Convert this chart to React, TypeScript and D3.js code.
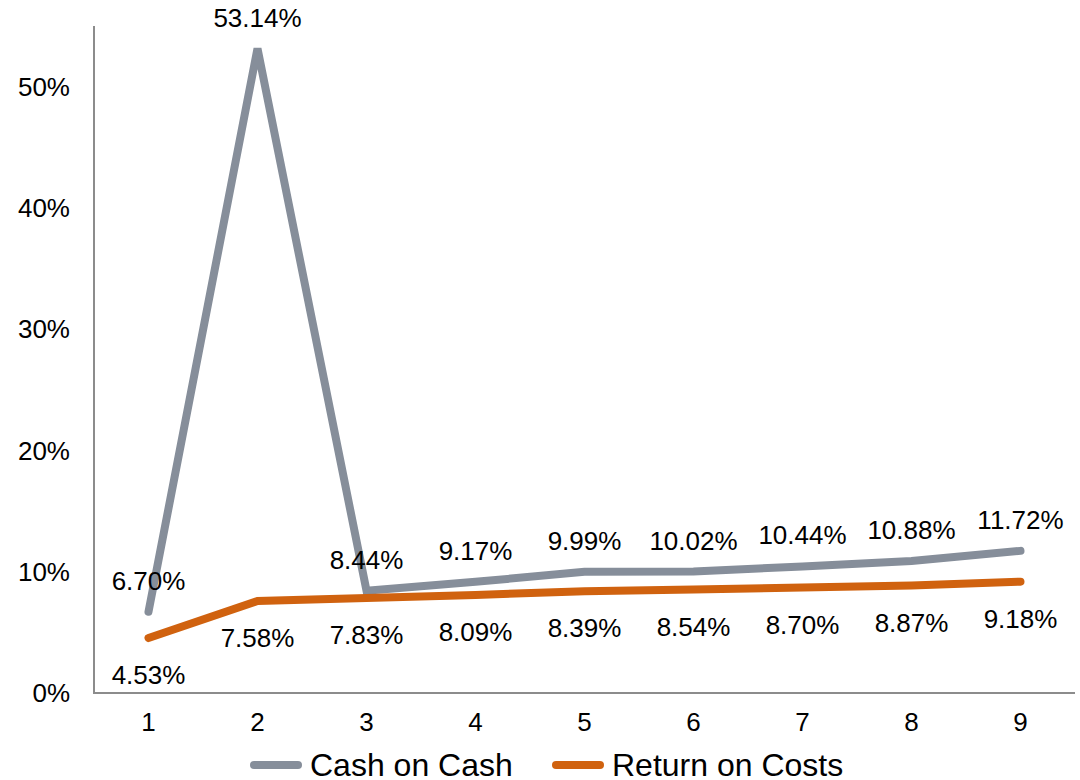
import React, { useRef, useEffect } from 'react';
import * as d3 from 'd3';

const years = ['1', '2', '3', '4', '5', '6', '7', '8', '9'];
const cashOnCash = [6.70, 53.14, 8.44, 9.17, 9.99, 10.02, 10.44, 10.88, 11.72];
const returnOnCosts = [4.53, 7.58, 7.83, 8.09, 8.39, 8.54, 8.70, 8.87, 9.18];
const yTicks = [0, 10, 20, 30, 40, 50];
const seriesNames = ['Cash on Cash', 'Return on Costs'];
const seriesColors = ['#868e9a', '#d0620f'];

const App = () => {
  const svgRef = useRef(null);

  useEffect(() => {
    const svg = d3.select(svgRef.current);
    svg.selectAll('*').remove();

    const font = 'Liberation Sans, Arial, sans-serif';
    const x = d3.scaleBand().domain(years).range([94, 1075]);
    const y = d3.scaleLinear().domain([0, 55]).range([693, 26]);
    const cx = (d: string) => (x(d) as number) + x.bandwidth() / 2;

    // axes lines
    svg.append('line').attr('x1', 94).attr('x2', 94).attr('y1', 26).attr('y2', 694)
      .attr('stroke', '#8c8c8c').attr('stroke-width', 2);
    svg.append('line').attr('x1', 93).attr('x2', 1075).attr('y1', 693).attr('y2', 693)
      .attr('stroke', '#8c8c8c').attr('stroke-width', 2);

    // y tick labels
    svg.append('g').selectAll('text').data(yTicks).enter().append('text')
      .attr('x', 70).attr('y', d => y(d)).attr('dy', '0.35em')
      .attr('text-anchor', 'end').attr('font-family', font).attr('font-size', 26)
      .attr('fill', '#000').text(d => `${d}%`);

    // x tick labels
    svg.append('g').selectAll('text').data(years).enter().append('text')
      .attr('x', d => cx(d)).attr('y', 722).attr('dy', '0.35em')
      .attr('text-anchor', 'middle').attr('font-family', font).attr('font-size', 26)
      .attr('fill', '#000').text(d => d);

    const line = d3.line<number>()
      .x((d, i) => cx(years[i]))
      .y(d => y(d));

    const allSeries = [cashOnCash, returnOnCosts];
    allSeries.forEach((vals, s) => {
      svg.append('path').datum(vals).attr('d', line)
        .attr('fill', 'none').attr('stroke', seriesColors[s]).attr('stroke-width', 8)
        .attr('stroke-linecap', 'round').attr('stroke-linejoin', 'miter');
    });

    // data labels: cash above, return below
    svg.append('g').selectAll('text').data(cashOnCash).enter().append('text')
      .attr('x', (d, i) => cx(years[i])).attr('y', d => y(d) - 31).attr('dy', '0.35em')
      .attr('text-anchor', 'middle').attr('font-family', font).attr('font-size', 26)
      .attr('fill', '#000').text(d => `${d.toFixed(2)}%`);

    svg.append('g').selectAll('text').data(returnOnCosts).enter().append('text')
      .attr('x', (d, i) => cx(years[i])).attr('y', d => y(d) + 37).attr('dy', '0.35em')
      .attr('text-anchor', 'middle').attr('font-family', font).attr('font-size', 26)
      .attr('fill', '#000').text(d => `${d.toFixed(2)}%`);

    // legend
    const legendX = [254, 556];
    const legendTextX = [310, 612];
    seriesNames.forEach((name, i) => {
      const g = svg.append('g').attr('transform', `translate(0,765)`);
      g.append('line').attr('x1', legendX[i]).attr('x2', legendX[i] + 44).attr('y1', 0).attr('y2', 0)
        .attr('stroke', seriesColors[i]).attr('stroke-width', 8).attr('stroke-linecap', 'round');
      g.append('text').attr('x', legendTextX[i]).attr('y', 0).attr('dy', '0.35em')
        .attr('font-family', font).attr('font-size', 32).attr('fill', '#000').text(name);
    });
  }, []);

  return (
    <div style={{ position: 'absolute', left: 0, top: 0 }}>
      <svg ref={svgRef} width={1080} height={780} style={{ display: 'block' }} />
    </div>
  );
};

export default App;
